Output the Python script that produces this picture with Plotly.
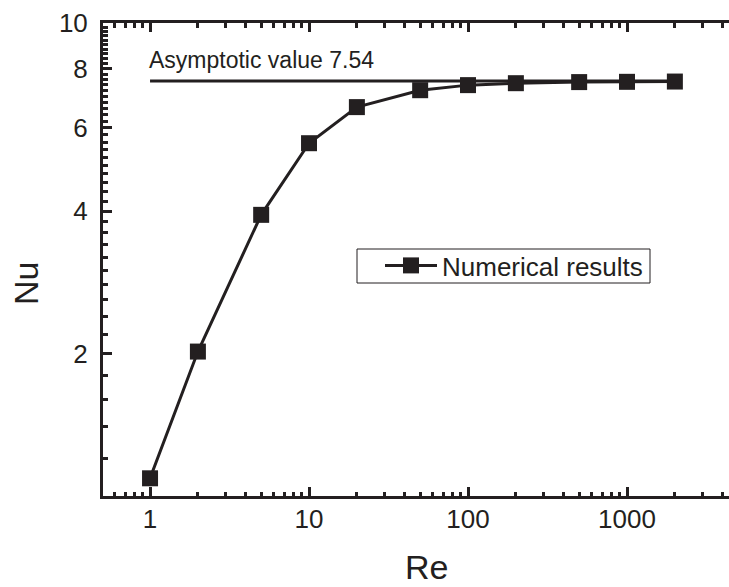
import numpy as np
import plotly.graph_objects as go

re_vals = [1, 2, 5, 10, 20, 50, 100, 200, 500, 1000, 2000]
nu_vals = [1.09, 2.02, 3.93, 5.57, 6.64, 7.21, 7.39, 7.46, 7.50, 7.51, 7.52]
asym_x = [1, 2000]
asym_y = [7.54, 7.54]
asym_label = "Asymptotic value 7.54"
series_name = "Numerical results"
x_ticks = [1, 10, 100, 1000]
y_ticks = [2, 4, 6, 8, 10]

INK = "#231f20"
FONT = "Arial, Liberation Sans, sans-serif"

x_minor = [m * 10.0**d for d in range(-1, 4) for m in range(2, 10) if 0.5 < m * 10.0**d < 4400]
y_minor = [round(v, 2) for v in np.arange(1.2, 10.0, 0.2)]
y_minor = [v for v in y_minor if v not in (2.0, 4.0, 6.0, 8.0)]

W, H = 729, 587
L, R, T, B = 103, 0, 23, 91
pw, ph = W - L - R, H - T - B

def px(xp):
    return (xp - L) / pw

def py(yp):
    return (H - B - yp) / ph

fig = go.Figure()
fig.add_trace(go.Scatter(x=asym_x, y=asym_y, mode="lines",
                         line=dict(color=INK, width=3), showlegend=False, hoverinfo="skip"))
fig.add_trace(go.Scatter(x=re_vals, y=nu_vals, mode="lines+markers", name=series_name,
                         line=dict(color=INK, width=3),
                         marker=dict(symbol="square", size=16, color=INK)))

fig.add_annotation(x=np.log10(1), y=np.log10(7.54), xref="x", yref="y",
                   text=asym_label, showarrow=False, xanchor="left", yanchor="bottom",
                   yshift=6, xshift=-3, font=dict(family=FONT, size=23, color=INK))
fig.add_annotation(x=px(427), y=py(567), xref="paper", yref="paper", text="Re", showarrow=False,
                   xanchor="center", yanchor="middle",
                   font=dict(family=FONT, size=34, color=INK))
fig.add_annotation(x=px(26), y=py(284), xref="paper", yref="paper", text="Nu", showarrow=False,
                   xanchor="center", yanchor="middle",
                   font=dict(family=FONT, size=34, color=INK), textangle=-90)

# legend frame
fig.add_shape(type="rect", xref="paper", yref="paper", x0=px(357), x1=px(650), y0=py(283), y1=py(249),
              line=dict(color=INK, width=1), fillcolor="rgba(0,0,0,0)", layer="above")

axis_common = dict(showgrid=False, zeroline=False, showline=True, linecolor=INK, linewidth=3,
                   ticks="inside", ticklen=9, tickwidth=2.5, tickcolor=INK,
                   tickfont=dict(family=FONT, size=26, color=INK))
fig.update_xaxes(type="log", range=[np.log10(0.506), np.log10(4380)], tickmode="array",
                 tickvals=x_ticks, ticktext=[str(v) for v in x_ticks], mirror="ticks",
                 minor=dict(tickmode="array", tickvals=x_minor, ticks="inside", ticklen=4.5,
                            tickwidth=2.5, tickcolor=INK),
                 ticklabelstandoff=-2, **axis_common)
fig.update_yaxes(type="log", range=[0, 1], tickmode="array",
                 tickvals=y_ticks, ticktext=[str(v) for v in y_ticks], mirror=False,
                 minor=dict(tickmode="array", tickvals=y_minor, ticks="inside", ticklen=4.5,
                            tickwidth=2.5, tickcolor=INK),
                 ticklabelstandoff=7, **axis_common)

fig.update_layout(width=W, height=H, margin=dict(l=L, r=R, t=T, b=B),
                  plot_bgcolor="white", paper_bgcolor="white",
                  legend=dict(x=px(380), y=py(242), xanchor="left", yanchor="top",
                              borderwidth=0, bgcolor="rgba(0,0,0,0)",
                              font=dict(family=FONT, size=26, color=INK),
                              itemwidth=52, tracegroupgap=0))
fig.write_html("out.html")
